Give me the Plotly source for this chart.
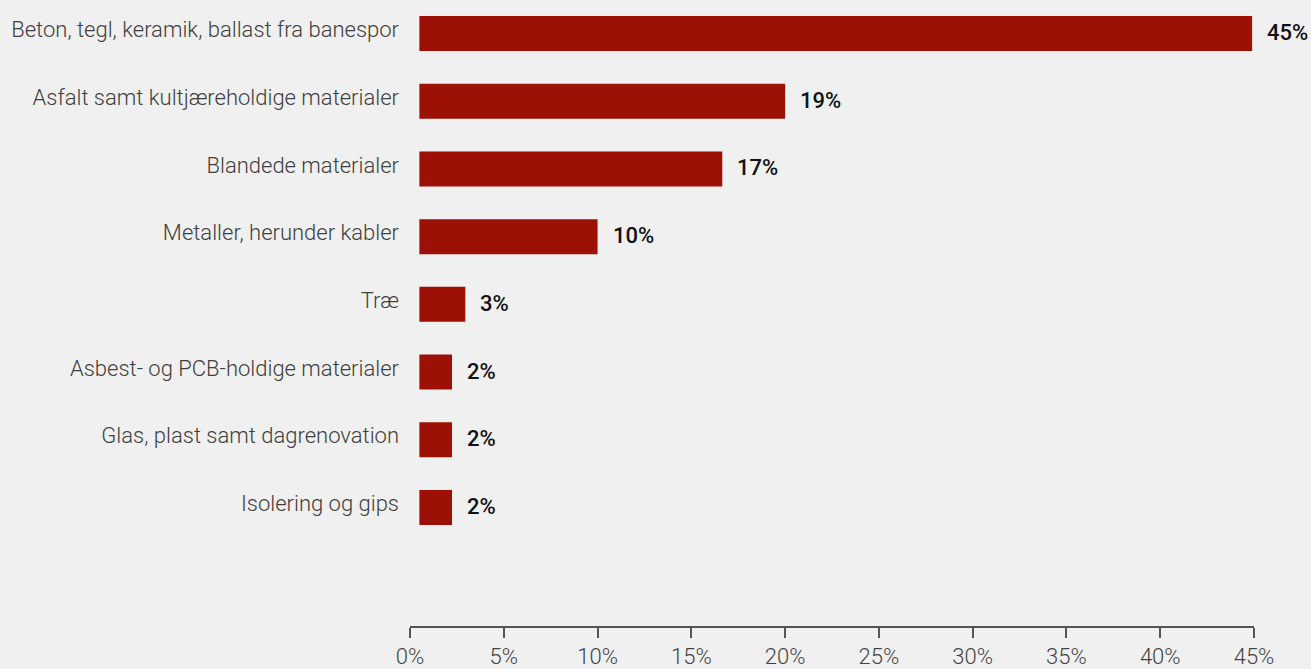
import plotly.graph_objects as go

categories = [
    "Beton, tegl, keramik, ballast fra banespor",
    "Asfalt samt kultjæreholdige materialer",
    "Blandede materialer",
    "Metaller, herunder kabler",
    "Træ",
    "Asbest- og PCB-holdige materialer",
    "Glas, plast samt dagrenovation",
    "Isolering og gips",
]
bar_end = [44.9, 20.0, 16.65, 10.0, 2.95, 2.24, 2.24, 2.24]
value_labels = ["45%", "19%", "17%", "10%", "3%", "2%", "2%", "2%"]
tick_vals = [0, 5, 10, 15, 20, 25, 30, 35, 40, 45]
tick_text = ["0%", "5%", "10%", "15%", "20%", "25%", "30%", "35%", "40%", "45%"]

BASE = 0.5
BAR_COLOR = "#9c1006"
BG = "#f0f0f0"

fig = go.Figure()
fig.add_trace(go.Bar(
    y=categories,
    x=[e - BASE for e in bar_end],
    base=BASE,
    orientation="h",
    marker=dict(color=BAR_COLOR, line=dict(width=0)),
    width=0.517,
    hoverinfo="skip",
))

for cat, end, lab in zip(categories, bar_end, value_labels):
    fig.add_annotation(
        x=end, y=cat, text=lab, showarrow=False,
        xanchor="left", yanchor="middle", xshift=13, yshift=1,
        font=dict(family="Roboto", size=22, color="#111111", weight=500),
    )

fig.update_layout(
    width=1311, height=669,
    margin=dict(l=410, r=57, t=0, b=43),
    paper_bgcolor=BG, plot_bgcolor=BG,
    showlegend=False,
    xaxis=dict(
        range=[0, 45],
        tickvals=tick_vals, ticktext=tick_text,
        showgrid=False, zeroline=False,
        showline=True, linecolor="#555555", linewidth=1.5,
        ticks="outside", ticklen=10, tickwidth=1.5, tickcolor="#555555",
        tickfont=dict(family="Roboto", size=22, color="#444444", weight=300),
    ),
    yaxis=dict(
        type="category",
        categoryorder="array", categoryarray=categories,
        range=[8.75, -0.495],
        showgrid=False, zeroline=False, showline=False,
        ticks="", ticklabelstandoff=10, ticklabelshift=4,
        tickfont=dict(family="Roboto", size=22, color="#404040", weight=300),
    ),
)

fig.write_html("out.html")
